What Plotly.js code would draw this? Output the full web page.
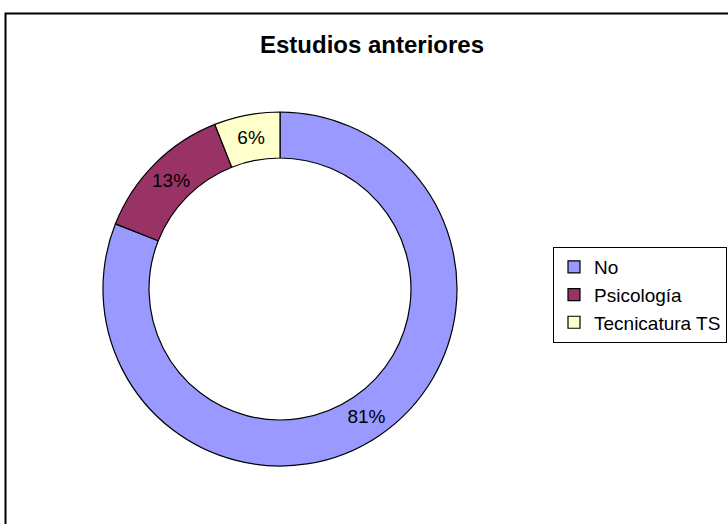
<!DOCTYPE html>
<html>
<head>
<meta charset="utf-8">
<script src="https://cdn.plot.ly/plotly-3.0.1.min.js"></script>
<style>
  html, body { margin: 0; padding: 0; background: #fff; }
  #chart { width: 728px; height: 524px; }
</style>
</head>
<body>
<div id="chart"></div>
<script>
const categories = ["No", "Psicología", "Tecnicatura TS"];
const values = [81, 13, 6];
const colors = ["#9999FF", "#993366", "#FFFFCC"];
const chartTitle = "Estudios anteriores";

const W = 728, H = 524;
const cx = 280, cy = 289, r = 177;

const trace = {
  type: "pie",
  labels: categories,
  values: values,
  sort: false,
  direction: "clockwise",
  rotation: 0,
  hole: 0.74,
  marker: { colors: colors, line: { color: "#000", width: 1.2 } },
  textinfo: "percent",
  texttemplate: "%{percent:.0%}",
  textposition: "inside",
  insidetextorientation: "horizontal",
  textfont: { family: "Liberation Sans, Arial, sans-serif", size: 19, color: "#000" },
  hoverinfo: "label+percent",
  domain: {
    x: [(cx - r) / W, (cx + r) / W],
    y: [(H - cy - r) / H, (H - cy + r) / H]
  }
};

const layout = {
  width: W, height: H,
  margin: { l: 0, r: 0, t: 0, b: 0 },
  paper_bgcolor: "#fff",
  plot_bgcolor: "#fff",
  title: {
    text: "<b>" + chartTitle + "</b>",
    font: { family: "Liberation Sans, Arial, sans-serif", size: 24, color: "#000" },
    x: 372 / W, xanchor: "center",
    y: 1 - 45 / H, yanchor: "middle"
  },
  showlegend: true,
  legend: {
    x: 553 / W, xanchor: "left",
    y: 1 - 247 / H, yanchor: "top",
    bordercolor: "#000", borderwidth: 1,
    bgcolor: "#fff",
    font: { family: "Liberation Sans, Arial, sans-serif", size: 19, color: "#000" }
  },
  shapes: [{
    type: "rect", xref: "paper", yref: "paper",
    x0: 5.5 / W, x1: 1.05, y0: -0.05, y1: 1 - 13.5 / H,
    line: { color: "#000", width: 2 }, fillcolor: "rgba(0,0,0,0)", layer: "below"
  }]
};

Plotly.newPlot("chart", [trace], layout, { displayModeBar: false, staticPlot: true });
</script>
</body>
</html>
